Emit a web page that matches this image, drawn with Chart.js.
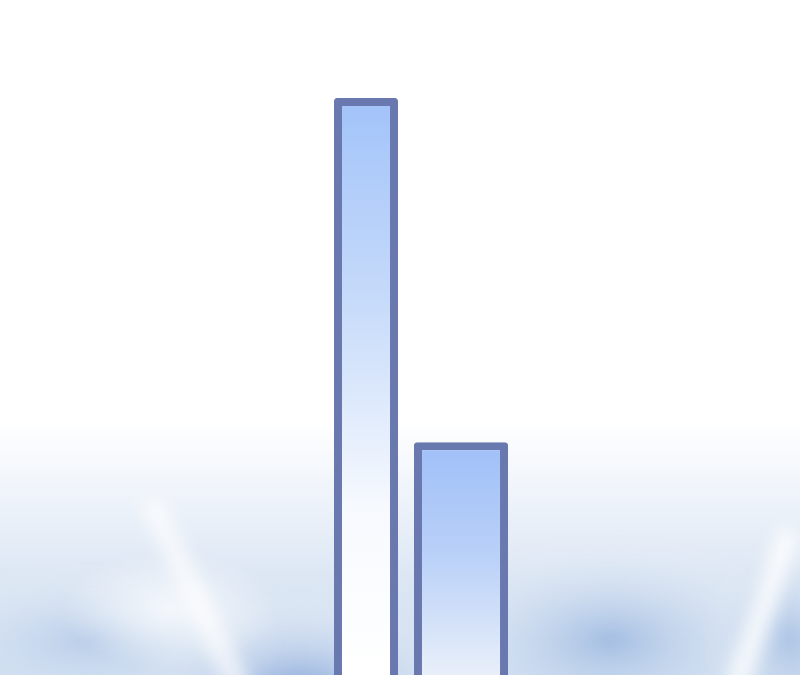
<!DOCTYPE html>
<html>
<head>
<meta charset="utf-8">
<script src="https://cdn.jsdelivr.net/npm/chart.js@4.4.0/dist/chart.umd.min.js"></script>
<style>
  html, body { margin: 0; padding: 0; background: #fff; }
  #wrap { width: 800px; height: 675px; position: relative; }
</style>
</head>
<body>
<div id="wrap"><canvas id="myChart"></canvas></div>
<script>
// two bars, no axes or text in the picture
const categories = ['A', 'B'];
const tallBar = [85.5, null];
const shortBar = [null, 34.5];

// cloudy sky behind the bars
const skyBackground = {
  id: 'sky',
  beforeDraw(chart) {
    const ctx = chart.ctx;
    const w = chart.width, h = chart.height;
    ctx.save();
    let g = ctx.createLinearGradient(0, 0, 0, h);
    g.addColorStop(0, '#ffffff');
    g.addColorStop(0.62, '#ffffff');
    g.addColorStop(0.74, '#eef3fa');
    g.addColorStop(0.85, '#dde7f4');
    g.addColorStop(1, '#d0dff1');
    ctx.fillStyle = g;
    ctx.fillRect(0, 0, w, h);

    function blob(x, y, rx, ry, color) {
      ctx.save();
      ctx.translate(x, y);
      ctx.scale(rx / ry, 1);
      const rg = ctx.createRadialGradient(0, 0, 0, 0, 0, ry);
      rg.addColorStop(0, color);
      rg.addColorStop(1, 'rgba(255,255,255,0)');
      ctx.fillStyle = rg;
      ctx.fillRect(-ry, -ry, ry * 2, ry * 2);
      ctx.restore();
    }
    ctx.filter = 'blur(4px)';
    blob(300, 700, 170, 110, 'rgba(100,140,205,0.8)');
    blob(90, 640, 200, 80, 'rgba(150,180,222,0.45)');
    blob(610, 640, 200, 110, 'rgba(130,165,215,0.6)');
    blob(790, 640, 90, 110, 'rgba(130,165,215,0.5)');
    blob(170, 610, 110, 60, 'rgba(255,255,255,0.75)');

    // light rays
    ctx.filter = 'blur(9px)';
    ctx.strokeStyle = 'rgba(255,255,255,0.7)';
    ctx.lineWidth = 22;
    ctx.beginPath();
    ctx.moveTo(240, 690); ctx.lineTo(150, 500);
    ctx.stroke();
    ctx.strokeStyle = 'rgba(255,255,255,0.9)';
    ctx.lineWidth = 20;
    ctx.beginPath();
    ctx.moveTo(735, 690); ctx.lineTo(790, 530);
    ctx.stroke();
    ctx.filter = 'none';
    ctx.restore();
  }
};

function barFill(stops) {
  return function(context) {
    const ctx = context.chart.ctx;
    const g = ctx.createLinearGradient(0, 0, 0, context.chart.height);
    stops.forEach(s => g.addColorStop(s[0], s[1]));
    return g;
  };
}

const chart = new Chart(document.getElementById('myChart'), {
  type: 'bar',
  data: {
    labels: categories,
    datasets: [{
      data: tallBar,
      grouped: false,
      barPercentage: 0.674,
      categoryPercentage: 1,
      backgroundColor: barFill([[0.15, '#a2c3f9'], [0.45, '#c7dbfa'], [0.75, '#f6f9fe'], [1, '#ffffff']]),
      borderColor: '#6a78b0',
      borderWidth: 8,
      borderRadius: 3
    }, {
      data: shortBar,
      grouped: false,
      barPercentage: 0.99,
      categoryPercentage: 1,
      backgroundColor: barFill([[0.65, '#9fbff8'], [0.82, '#b9d0f8'], [1, '#e8eff9']]),
      borderColor: '#6a78b0',
      borderWidth: 8,
      borderRadius: 3
    }]
  },
  plugins: [skyBackground],
  options: {
    responsive: true,
    maintainAspectRatio: false,
    animation: false,
    layout: { padding: { left: 318.5, right: 291.5, top: 0, bottom: 0 } },
    plugins: { legend: { display: false }, tooltip: { enabled: false } },
    scales: {
      x: { display: false },
      y: { display: false, min: 0, max: 100 }
    }
  }
});
</script>
</body>
</html>
